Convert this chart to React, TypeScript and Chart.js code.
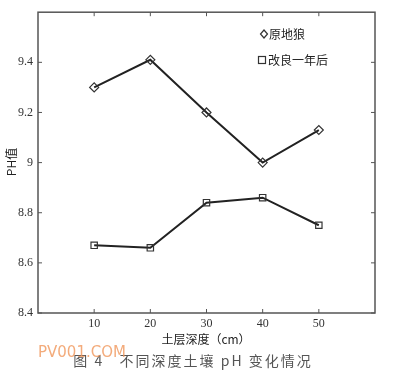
import React, { useEffect, useRef } from "react";
import { Chart, registerables } from "chart.js";

Chart.register(...registerables);

const depths = [10, 20, 30, 40, 50];
const originalPH = [9.3, 9.41, 9.2, 9.0, 9.13];
const improvedPH = [8.67, 8.66, 8.84, 8.86, 8.75];
const seriesNames = ["原地狼", "改良一年后"];
const xTicks = [10, 20, 30, 40, 50];
const yTicks = [8.4, 8.6, 8.8, 9, 9.2, 9.4];
const xTitle = "土层深度（cm）";
const yTitle = "PH值";
const caption = "图 4   不同深度土壤 pH 变化情况";
const watermark = "PV001.COM";

const overlay = {
  id: "overlay",
  afterDraw(chart: any) {
    const { ctx, chartArea: a, scales } = chart;
    const xs = scales.x;
    const ys = scales.y;
    ctx.save();
    ctx.strokeStyle = "#555";
    ctx.lineWidth = 1.5;
    ctx.strokeRect(a.left, a.top, a.right - a.left, a.bottom - a.top);
    ctx.lineWidth = 1;
    const tl = 4;
    for (const v of xTicks) {
      const px = xs.getPixelForValue(v);
      ctx.beginPath();
      ctx.moveTo(px, a.bottom);
      ctx.lineTo(px, a.bottom - tl);
      ctx.moveTo(px, a.top);
      ctx.lineTo(px, a.top + tl);
      ctx.stroke();
    }
    for (const v of yTicks) {
      const py = ys.getPixelForValue(v);
      ctx.beginPath();
      ctx.moveTo(a.left, py);
      ctx.lineTo(a.left + tl, py);
      ctx.moveTo(a.right, py);
      ctx.lineTo(a.right - tl, py);
      ctx.stroke();
    }
    // legend
    ctx.fillStyle = "#222";
    ctx.strokeStyle = "#333";
    ctx.lineWidth = 1.2;
    ctx.font = "12px 'Noto Sans CJK SC'";
    ctx.textBaseline = "middle";
    ctx.textAlign = "left";
    const dx = 264, dy = 34;
    ctx.beginPath();
    ctx.moveTo(dx, dy - 4);
    ctx.lineTo(dx + 3.5, dy);
    ctx.lineTo(dx, dy + 4);
    ctx.lineTo(dx - 3.5, dy);
    ctx.closePath();
    ctx.stroke();
    ctx.fillText(seriesNames[0], 269, dy);
    const sx = 262, sy = 60;
    ctx.strokeRect(sx - 3.5, sy - 3.5, 7, 7);
    ctx.fillText(seriesNames[1], 268, sy);
    // axis titles
    ctx.textAlign = "center";
    ctx.fillText(xTitle, 206, 339);
    ctx.save();
    ctx.translate(11, 162);
    ctx.rotate(-Math.PI / 2);
    ctx.fillText(yTitle, 0, 0);
    ctx.restore();
    // caption
    ctx.fillStyle = "#555";
    ctx.font = "14px 'Noto Sans CJK SC'";
    (ctx as any).letterSpacing = "2px";
    ctx.fillText(caption, 193, 361);
    (ctx as any).letterSpacing = "0px";
    // watermark
    ctx.fillStyle = "rgba(240,150,90,0.8)";
    ctx.font = "15px 'DejaVu Sans'";
    ctx.textAlign = "left";
    ctx.fillText(watermark, 38, 353);
    ctx.restore();
  },
};

export default function App() {
  const ref = useRef<HTMLCanvasElement>(null);
  useEffect(() => {
    document.body.style.margin = "0";
    const chart = new Chart(ref.current!, {
      type: "line",
      data: {
        datasets: [
          {
            label: seriesNames[0],
            data: depths.map((d, i) => ({ x: d, y: originalPH[i] })),
            borderColor: "#222",
            borderWidth: 2,
            pointStyle: "rectRot",
            pointRadius: 4.5,
            pointBackgroundColor: "rgba(255,255,255,0)",
            pointBorderColor: "#333",
            pointBorderWidth: 1.2,
          },
          {
            label: seriesNames[1],
            data: depths.map((d, i) => ({ x: d, y: improvedPH[i] })),
            borderColor: "#222",
            borderWidth: 2,
            pointStyle: "rect",
            pointRadius: 4.5,
            pointBackgroundColor: "rgba(255,255,255,0)",
            pointBorderColor: "#333",
            pointBorderWidth: 1.2,
          },
        ],
      },
      options: {
        animation: false,
        responsive: false,
        layout: { padding: { top: 10, right: 18, left: 0, bottom: 0 } },
        plugins: { legend: { display: false }, tooltip: { enabled: false } },
        scales: {
          x: {
            type: "linear",
            min: 0,
            max: 60,
            afterBuildTicks: (s: any) => {
              s.ticks = xTicks.map((v) => ({ value: v }));
            },
            grid: { display: false, drawTicks: false },
            border: { display: false },
            ticks: {
              color: "#333",
              font: { family: "'Liberation Serif'", size: 12 },
              padding: 4,
              maxRotation: 0,
            },
            afterFit: (s: any) => {
              s.height = 66;
            },
          },
          y: {
            type: "linear",
            min: 8.4,
            max: 9.6,
            afterBuildTicks: (s: any) => {
              s.ticks = yTicks.map((v) => ({ value: v }));
            },
            grid: { display: false, drawTicks: false },
            border: { display: false },
            ticks: {
              color: "#333",
              font: { family: "'Liberation Serif'", size: 12 },
              padding: 5,
              callback: (v: any) => String(Math.round(Number(v) * 10) / 10),
            },
            afterFit: (s: any) => {
              s.width = 38;
            },
          },
        },
      },
      plugins: [overlay],
    });
    return () => chart.destroy();
  }, []);
  return (
    <div style={{ position: "absolute", left: 0, top: 0, width: 393, height: 379, background: "#fff" }}>
      <canvas ref={ref} width={393} height={379} />
    </div>
  );
}
